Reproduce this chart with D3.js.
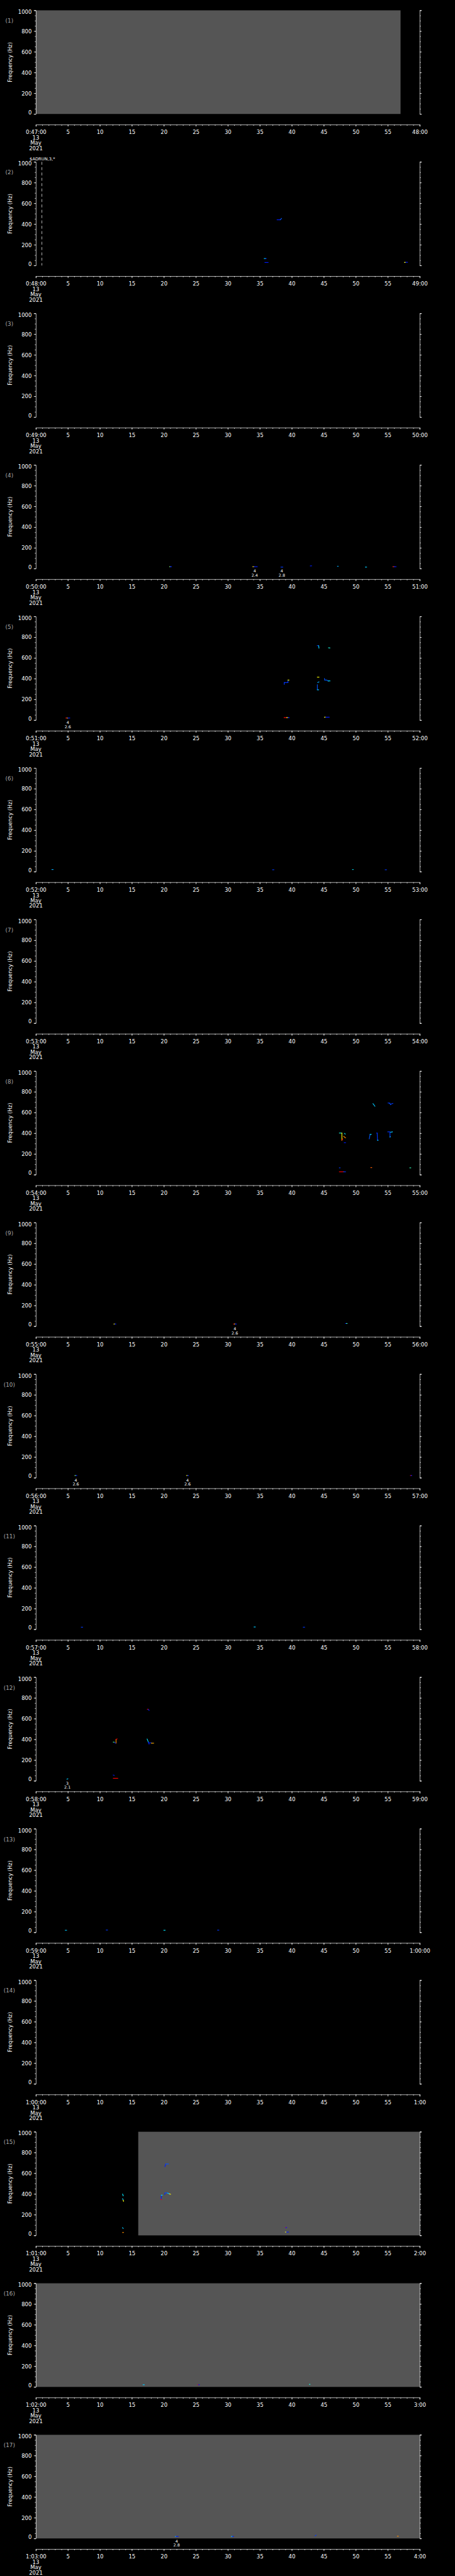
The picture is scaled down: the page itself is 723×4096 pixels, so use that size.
<!DOCTYPE html>
<html>
<head>
<meta charset="utf-8">
<script src="https://cdn.jsdelivr.net/npm/d3@7"></script>
<style>
  body { margin: 0; background: #000; }
  svg { display: block; background: #000; }
  text { font-family: "DejaVu Sans", sans-serif; fill: #fff; }
</style>
</head>
<body>
<svg id="chart" width="723" height="4096" viewBox="0 0 1024 5802"></svg>
<script>
// one panel per minute, 0:47 to 1:03 on 13 May 2021
const startLabels = ["0:47:00", "0:48:00", "0:49:00", "0:50:00", "0:51:00", "0:52:00", "0:53:00", "0:54:00",
  "0:55:00", "0:56:00", "0:57:00", "0:58:00", "0:59:00", "1:00:00", "1:01:00", "1:02:00", "1:03:00"]
const endLabels = ["48:00", "49:00", "50:00", "51:00", "52:00", "53:00", "54:00", "55:00",
  "56:00", "57:00", "58:00", "59:00", "1:00:00", "1:00", "2:00", "3:00", "4:00"]
const dateLines = ["13", "May", "2021"]
const freqTicks = [0, 200, 400, 600, 800, 1000]
const secTicks = [0, 5, 10, 15, 20, 25, 30, 35, 40, 45, 50, 55, 60]

// no-data (grey) spans per panel, seconds [from, to]
const greySpans = [[0, 0, 57], [14, 16, 60], [15, 0, 60], [16, 0, 60]]

// vertical dashed cursor [panel, second]
const cursors = [[1, 0.94]]
const notes = [[1, "$ADRUN,3,*"]]

// spectrogram traces [panel, t0, f0, t1, f1, level 0..1]
const marks = [
  [1, 37.7, 441, 38.2, 441, 0.05], [1, 38.2, 441, 38.4, 455, 0.15],
  [1, 35.7, 67, 35.9, 67, 0.4], [1, 35.9, 67, 36.0, 67, 0.05],
  [1, 35.8, 29, 36.3, 29, 0.05],
  [1, 57.6, 30, 57.8, 30, 0.7], [1, 57.8, 31, 58.1, 31, 0.05],

  [3, 20.9, 18, 21.0, 18, 0.6], [3, 21.0, 18, 21.2, 18, 0.05],
  [3, 33.9, 18, 34.1, 18, 0.75], [3, 34.1, 18, 34.6, 18, 0.05],
  [3, 38.3, 14, 38.6, 14, 0.1],
  [3, 42.9, 25, 43.1, 26, 0.05],
  [3, 47.15, 22, 47.25, 22, 0.3],
  [3, 51.5, 14, 51.7, 14, 0.35],
  [3, 55.8, 18, 56.0, 18, 0.95], [3, 56.0, 18, 56.3, 18, 0.05],

  [4, 4.7, 20, 4.9, 20, 1.0], [4, 4.9, 20, 5.0, 20, 0.7], [4, 5.0, 20, 5.3, 20, 0.05],
  [4, 38.8, 24, 39.2, 24, 1.0], [4, 39.2, 24, 39.4, 24, 0.7], [4, 39.4, 24, 39.6, 24, 0.05],
  [4, 45.1, 28, 45.3, 28, 0.7], [4, 45.3, 28, 45.85, 28, 0.05],
  [4, 38.82, 345, 38.82, 362, 0.1], [4, 38.82, 362, 39.4, 362, 0.1],
  [4, 39.4, 362, 39.4, 386, 0.1], [4, 39.4, 386, 39.56, 386, 0.7],
  [4, 43.98, 718, 44.2, 718, 0.1], [4, 44.2, 718, 44.25, 694, 0.35],
  [4, 45.75, 698, 45.95, 696, 0.45],
  [4, 44.0, 414, 44.25, 414, 0.7],
  [4, 44.05, 362, 44.25, 368, 0.3],
  [4, 44.0, 341, 44.0, 293, 0.15], [4, 44.0, 292, 44.2, 292, 0.35],
  [4, 45.11, 401, 45.16, 386, 0.15], [4, 45.16, 386, 45.46, 386, 0.15],
  [4, 45.46, 386, 45.69, 377, 0.15], [4, 45.69, 378, 45.97, 378, 0.4],

  [5, 2.5, 20, 2.7, 20, 0.3], [5, 37.0, 18, 37.2, 18, 0.1], [5, 49.5, 20, 49.6, 20, 0.4], [5, 54.6, 18, 54.8, 18, 0.1],

  [7, 47.44, 402, 47.83, 402, 0.45], [7, 47.83, 402, 47.83, 332, 0.7],
  [7, 47.85, 332, 47.95, 345, 1.0],
  [7, 48.1, 370, 48.4, 356, 0.85],
  [7, 48.25, 398, 48.35, 392, 0.4],
  [7, 48.2, 309, 48.4, 309, 0.05],
  [7, 47.44, 66, 47.55, 66, 0.1],
  [7, 47.44, 28, 48.1, 28, 1.0], [7, 48.1, 28, 48.4, 28, 0.1],
  [7, 52.11, 346, 52.25, 389, 0.15], [7, 52.25, 389, 52.42, 389, 0.4],
  [7, 53.27, 402, 53.35, 402, 0.05], [7, 53.35, 402, 53.4, 332, 0.1], [7, 53.4, 332, 53.5, 332, 0.35],
  [7, 55.0, 413, 55.3, 413, 0.1], [7, 55.35, 413, 55.35, 363, 0.1], [7, 55.35, 363, 55.4, 366, 0.35],
  [7, 55.45, 410, 55.73, 413, 0.35],
  [7, 52.69, 685, 53.0, 660, 0.35],
  [7, 55.04, 692, 55.3, 690, 0.1], [7, 55.3, 690, 55.45, 675, 0.15], [7, 55.45, 680, 55.8, 688, 0.1],
  [7, 52.35, 68, 52.5, 68, 0.9],
  [7, 58.45, 66, 58.6, 66, 0.5],

  [8, 12.2, 21, 12.35, 21, 0.7], [8, 12.35, 21, 12.5, 21, 0.05],
  [8, 30.9, 21, 31.05, 21, 1.0], [8, 31.05, 21, 31.15, 21, 0.7], [8, 31.15, 21, 31.35, 21, 0.05],
  [8, 48.4, 26, 48.55, 26, 0.05], [8, 48.55, 26, 48.65, 26, 0.5],

  [9, 6.1, 21, 6.25, 21, 0.6], [9, 6.25, 21, 6.4, 21, 0.05],
  [9, 23.55, 21, 23.7, 21, 0.7], [9, 23.7, 21, 23.85, 21, 0.05],
  [9, 58.55, 21, 58.65, 21, 1.0], [9, 58.65, 21, 58.75, 21, 0.05],

  [10, 7.1, 20, 7.3, 20, 0.1], [10, 34.1, 22, 34.3, 22, 0.35], [10, 41.8, 20, 42.0, 20, 0.1],

  [11, 4.85, 15, 5.0, 19, 0.35],
  [11, 12.53, 364, 12.53, 400, 0.85], [11, 12.53, 400, 12.7, 404, 1.0],
  [11, 12.1, 373, 12.25, 373, 0.55],
  [11, 12.3, 368, 12.45, 364, 0.05],
  [11, 12.1, 55, 12.25, 52, 0.05],
  [11, 12.1, 24, 12.8, 24, 1.0],
  [11, 17.43, 690, 17.55, 690, 1.0], [11, 17.55, 688, 17.7, 680, 0.05],
  [11, 17.39, 403, 17.58, 373, 0.4], [11, 17.58, 373, 17.7, 354, 0.05],
  [11, 17.7, 366, 18.05, 366, 0.05], [11, 18.05, 363, 18.4, 363, 0.8],

  [12, 4.6, 20, 4.8, 20, 0.35], [12, 11.0, 22, 11.2, 22, 0.1], [12, 20.0, 20, 20.2, 20, 0.4], [12, 28.4, 21, 28.6, 21, 0.1],

  [14, 13.55, 398, 13.65, 382, 0.4],
  [14, 13.55, 354, 13.65, 340, 0.35], [14, 13.65, 340, 13.7, 328, 0.7],
  [14, 13.55, 75, 13.65, 67, 0.35],
  [14, 13.55, 28, 13.7, 28, 0.85],
  [14, 19.6, 345, 19.6, 388, 0.05], [14, 19.6, 388, 19.75, 388, 0.4], [14, 19.55, 348, 19.65, 345, 1.0],
  [14, 20.13, 395, 20.2, 410, 0.05], [14, 20.2, 410, 20.6, 410, 0.15],
  [14, 20.6, 408, 20.9, 400, 0.35], [14, 20.9, 400, 21.04, 397, 0.7],
  [14, 20.17, 664, 20.3, 689, 0.05], [14, 20.3, 689, 20.72, 689, 0.15],
  [14, 39.0, 77, 39.05, 77, 1.0], [14, 39.05, 75, 39.2, 75, 0.05],
  [14, 39.0, 32, 39.15, 32, 0.7], [14, 39.15, 32, 39.47, 32, 0.05],

  [15, 16.75, 21, 16.95, 21, 0.35],
  [15, 25.3, 21, 25.4, 21, 1.0], [15, 25.4, 21, 25.55, 21, 0.05],
  [15, 42.75, 25, 42.85, 25, 0.45],

  [16, 21.8, 19, 21.9, 19, 0.35], [16, 21.9, 19, 22.25, 19, 0.05],
  [16, 30.55, 19, 30.7, 19, 0.35], [16, 30.7, 19, 30.9, 19, 0.05],
  [16, 43.65, 25, 43.8, 32, 0.1],
  [16, 56.5, 22, 56.65, 22, 0.85]
]

// small two-line annotations under events [panel, second, line1, line2]
const eventLabels = [
  [3, 34.2, "4", "2.4"], [3, 38.45, "4", "2.8"],
  [4, 5.0, "4", "2.6"],
  [8, 31.1, "4", "2.6"],
  [9, 6.24, "4", "2.6"], [9, 23.7, "4", "2.6"],
  [11, 4.93, "3", "2.1"],
  [16, 22.0, "4", "2.8"]
]

const svg = d3.select("#chart")
const step = 5802 / 17
const top0 = 23.3
const plotH = 233.4
const axisGap = 257.4
const x = d3.scaleLinear().domain([0, 60]).range([80.7, 944.7])
const y = d3.scaleLinear().domain([0, 1000]).range([plotH, 0])
const color = d3.scaleLinear()
  .domain([0, 0.2, 0.4, 0.55, 0.7, 0.85, 1])
  .range(["#0000ff", "#0070ff", "#00e8ff", "#50ff90", "#ffff00", "#ff8c00", "#ff0000"])

const minorSec = d3.range(0, 61)
const minorFreq = d3.range(0, 1001, 50)

startLabels.forEach((lab, i) => {
  const g = svg.append("g").attr("transform", "translate(0," + (top0 + i * step) + ")")

  // grey no-data fill
  greySpans.filter((d) => d[0] === i).forEach((d) => {
    g.append("rect")
      .attr("x", x(d[1]))
      .attr("y", 0)
      .attr("width", x(d[2]) - x(d[1]))
      .attr("height", plotH)
      .attr("fill", "#555555")
  })

  // left axis
  const yl = g.append("g").attr("transform", "translate(" + x(0) + ",0)").attr("color", "#fff")
  yl.call(d3.axisLeft(y).tickValues(freqTicks).tickFormat(d3.format("d"))
    .tickSize(4.5).tickSizeOuter(4.5).tickPadding(5))
  yl.selectAll("text").attr("font-size", 12).attr("font-family", "DejaVu Sans")
    .attr("dy", (d) => d === 0 ? "0.03em" : d === 1000 ? "0.65em" : "0.35em")
  g.append("g").attr("transform", "translate(" + x(0) + ",0)").attr("color", "#fff")
    .call(d3.axisLeft(y).tickValues(minorFreq).tickSize(2.5).tickFormat(""))
    .select(".domain").remove()

  // right axis
  g.append("g").attr("transform", "translate(" + x(60) + ",0)").attr("color", "#fff")
    .call(d3.axisRight(y).tickValues(freqTicks).tickSize(4.5).tickSizeOuter(4.5).tickFormat(""))
  g.append("g").attr("transform", "translate(" + x(60) + ",0)").attr("color", "#fff")
    .call(d3.axisRight(y).tickValues(minorFreq).tickSize(2.5).tickFormat(""))
    .select(".domain").remove()

  // time axis
  const xb = g.append("g").attr("transform", "translate(0," + axisGap + ")").attr("color", "#fff")
  xb.call(d3.axisBottom(x).tickValues(secTicks).tickSize(4.3).tickSizeOuter(4.3).tickPadding(8.6)
    .tickFormat((d) => d === 0 ? lab : d === 60 ? endLabels[i] : d))
  xb.selectAll("text").attr("font-size", 12).attr("font-family", "DejaVu Sans")
  g.append("g").attr("transform", "translate(0," + axisGap + ")").attr("color", "#fff")
    .call(d3.axisBottom(x).tickValues(minorSec).tickSize(2.6).tickFormat(""))
    .select(".domain").remove()

  dateLines.forEach((t, k) => {
    g.append("text")
      .attr("x", x(0))
      .attr("y", axisGap + 29.3 + k * 12)
      .attr("dy", "0.35em")
      .attr("text-anchor", "middle")
      .attr("font-size", 12)
      .text(t)
  })

  // panel number and y title
  g.append("text")
    .attr("x", 21)
    .attr("y", 23.7)
    .attr("dy", "0.35em")
    .attr("text-anchor", "middle")
    .attr("font-size", 12.5)
    .style("fill", "#a8a8a8")
    .text("(" + (i + 1) + ")")
  g.append("text")
    .attr("transform", "translate(23.3," + plotH / 2 + ") rotate(-90)")
    .attr("dy", "0.35em")
    .attr("text-anchor", "middle")
    .attr("font-size", 12)
    .text("Frequency (Hz)")

  notes.filter((d) => d[0] === i).forEach((d) => {
    g.append("text").attr("x", 66.7).attr("y", -3.2).attr("font-size", 9.5).text(d[1])
  })

  cursors.filter((d) => d[0] === i).forEach((d) => {
    g.append("line")
      .attr("x1", x(d[1])).attr("x2", x(d[1]))
      .attr("y1", y(1000)).attr("y2", y(0))
      .attr("stroke", "#fff")
      .attr("stroke-width", 1)
      .attr("stroke-dasharray", "6.5,5.5")
  })

  g.selectAll(".mark")
    .data(marks.filter((d) => d[0] === i))
    .enter()
    .append("line")
    .attr("class", "mark")
    .attr("x1", (d) => x(d[1]))
    .attr("y1", (d) => y(d[2]))
    .attr("x2", (d) => x(d[3]))
    .attr("y2", (d) => y(d[4]))
    .attr("stroke", (d) => color(d[5]))
    .attr("stroke-width", 1.6)
    .attr("stroke-linecap", "square")

  eventLabels.filter((d) => d[0] === i).forEach((d) => {
    g.append("text").attr("x", x(d[1])).attr("y", plotH + 5.8).attr("dy", "0.35em")
      .attr("text-anchor", "middle").attr("font-size", 9).text(d[2])
    g.append("text").attr("x", x(d[1])).attr("y", plotH + 15).attr("dy", "0.35em")
      .attr("text-anchor", "middle").attr("font-size", 9).text(d[3])
  })
})
</script>
</body>
</html>
